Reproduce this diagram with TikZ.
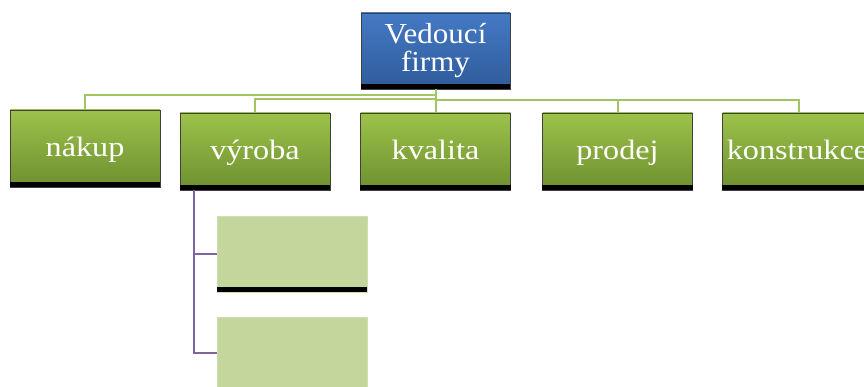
\documentclass[tikz,border=0pt]{standalone}
\usepackage{fontspec}
\setmainfont{Liberation Serif}
\newfontfamily\lowfont[FakeStretch=1.15]{Liberation Serif}
\newfontfamily\topfont[FakeStretch=1.07]{Liberation Serif}
\definecolor{gtop}{HTML}{9DC24B}
\definecolor{gbot}{HTML}{6E8F2F}
\definecolor{btop}{HTML}{4479C4}
\definecolor{bbot}{HTML}{2F5C9A}
\definecolor{subfill}{HTML}{C3D69B}
\definecolor{conngreen}{HTML}{A3C463}
\definecolor{connpurple}{HTML}{8064A2}
\definecolor{boxedge}{HTML}{404040}
\begin{document}
\begin{tikzpicture}[x=1pt,y=-1pt,
  basebox/.style={rectangle, inner sep=0pt, draw=boxedge, line width=0.6pt, text=white},
  greenbox/.style={basebox, minimum width=150pt, minimum height=77pt,
    top color=gtop, bottom color=gbot,
    font=\lowfont\fontsize{28}{30}\selectfont, text height=21pt, text depth=5pt},
  bluebox/.style={basebox, minimum width=149pt, minimum height=76pt,
    top color=btop, bottom color=bbot, align=center,
    font=\topfont\fontsize{29}{28}\selectfont},
  subbox/.style={rectangle, inner sep=0pt, draw=subfill!80!white, line width=0.5pt,
    fill=subfill, minimum width=150pt, minimum height=76pt},
  gconn/.style={draw=conngreen, line width=2pt},
  pconn/.style={draw=connpurple, line width=2pt},
  bar/.style={fill=black}]
\useasboundingbox (0,0) rectangle (864,387);
\clip (0,0) rectangle (864,387);

% connectors (drawn first, behind boxes)
\coordinate (bossfoot) at (435.5,89);
\coordinate (vtapc) at (194,190);

% nodes
\node[bluebox] (boss) at (435.5,51) {Vedoucí\\firmy};
\node[greenbox] (nakup) at (85,148.5) {nákup};
\node[greenbox] (vyroba) at (255,151.5) {výroba};
\node[greenbox] (kvalita) at (435.5,151.5) {kvalita};
\node[greenbox] (prodej) at (617.5,151.5) {prodej};
\node[greenbox] (konstrukce) at (797.5,151.5) {konstrukce};
\node[subbox] (sub1) at (292,254) {};
\node[subbox] (sub2) at (292,355) {};

% black bottom bars
\foreach \n in {boss,nakup,vyroba,kvalita,prodej,konstrukce,sub1}
  \fill[bar] ([yshift=5pt]\n.south west) rectangle (\n.south east);

\draw[gconn] (boss.south) -- ++(0,6) -| (nakup.north);
\draw[gconn] (boss.south) -- ++(0,10) -| (vyroba.north);
\draw[gconn] (boss.south) -- (kvalita.north);
\draw[gconn] (boss.south) -- ++(0,11) -| (prodej.north);
\draw[gconn] (boss.south) -- ++(0,11) -| ([xshift=1.5pt]konstrukce.north);
\coordinate (vtap) at ([xshift=14pt]vyroba.south west);
\draw[pconn] (vtap) |- (sub1.west);
\draw[pconn] (vtap) |- ([yshift=2pt]sub2.west);
\end{tikzpicture}
\end{document}
